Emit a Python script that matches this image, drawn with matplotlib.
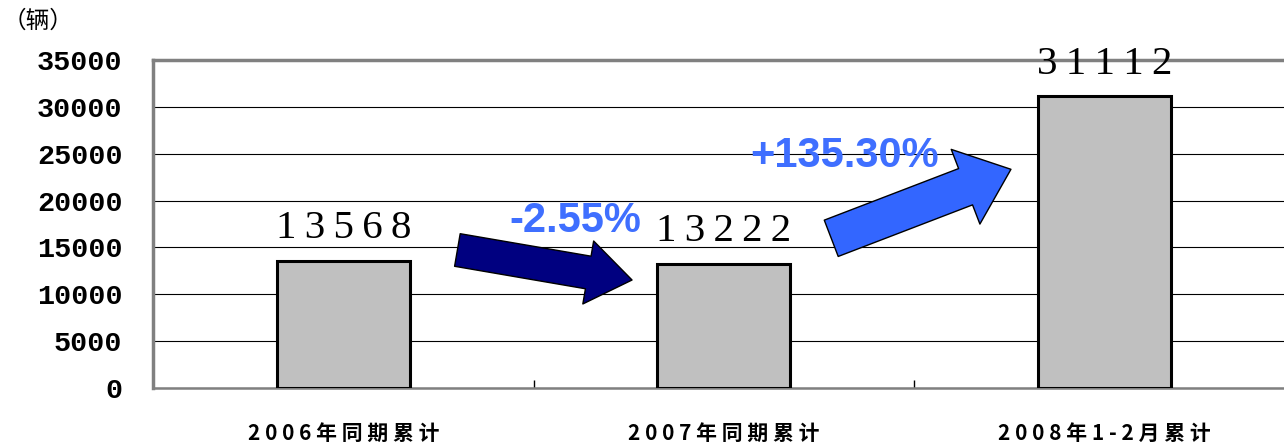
import matplotlib.pyplot as plt
from matplotlib.ticker import FixedLocator

plt.rcParams['font.family'] = ['Noto Sans CJK SC', 'DejaVu Sans']

# data
categories = ['2006年同期累计', '2007年同期累计', '2008年1-2月累计']
values = [13568, 13222, 31112]
changes = ['-2.55%', '+135.30%']
y_ticks = [0, 5000, 10000, 15000, 20000, 25000, 30000, 35000]


def spaced(s, sep):
    return sep.join(s)


fig = plt.figure(figsize=(12.84, 4.42), dpi=100)
ax = fig.add_axes([153 / 1284, 1 - 388 / 442, 1141.5 / 1284, 328 / 442])

x = list(range(len(categories)))
ax.bar(x, values, width=0.35, color='#C0C0C0', edgecolor='black', linewidth=2.2, zorder=3)

ax.set_xlim(-0.5, 2.5)
ax.set_ylim(0, 35000)
ax.set_yticks(y_ticks)
ax.set_yticklabels([str(t) for t in y_ticks], family=['Liberation Mono', 'DejaVu Sans Mono'],
                   fontsize=20.5, weight='bold')
ax.tick_params(axis='y', length=0, pad=22)

ax.set_xticks(x)
ax.set_xticklabels([spaced(c, ' ') for c in categories], fontsize=15, weight='bold')
ax.tick_params(axis='x', which='major', length=0, pad=25)
ax.xaxis.set_minor_locator(FixedLocator([0.5, 1.5]))
ax.tick_params(axis='x', which='minor', direction='in', length=6, width=1, color='black')

ax.yaxis.grid(True, color='black', linewidth=0.8)
ax.set_axisbelow(True)
for side in ['top', 'left']:
    ax.spines[side].set_color('#808080')
    ax.spines[side].set_linewidth(2.5)
ax.spines['bottom'].set_color('#808080')
ax.spines['bottom'].set_linewidth(1.8)
ax.spines['right'].set_visible(False)

# value labels
for i, v in enumerate(values):
    ax.annotate(spaced(str(v), '\u2009'), (i, v), xytext=(0, 16.5), textcoords='offset points',
                ha='center', va='baseline', fontsize=29.5,
                family=['Liberation Serif', 'DejaVu Serif'], zorder=5)

# change arrows
ax.annotate('', xy=(0.759, 11524), xytext=(0.30, 14726),
            arrowprops=dict(arrowstyle='simple,head_length=1.6,head_width=2.3,tail_width=1.19',
                            mutation_scale=20, fc='#000080', ec='black', lw=1,
                            shrinkA=0, shrinkB=0), zorder=6)
ax.annotate('', xy=(1.7548, 23337), xytext=(1.2825, 15974),
            arrowprops=dict(arrowstyle='simple,head_length=1.75,head_width=2.88,tail_width=1.4',
                            mutation_scale=20, fc='#3366FF', ec='black', lw=1,
                            shrinkA=0, shrinkB=0), zorder=6)

ax.text(0.61, 16679, changes[0], ha='center', va='baseline', fontsize=30, weight='bold',
        color='#3F6FFF', family=['Liberation Sans', 'DejaVu Sans'], zorder=7)
ax.text(1.3167, 23615, changes[1], ha='center', va='baseline', fontsize=30, weight='bold',
        color='#3F6FFF', family=['Liberation Sans', 'DejaVu Sans'], zorder=7)

fig.text(0.002, 0.952, '（辆）', ha='left', va='center', fontsize=17)

fig.savefig('out.png', dpi=100)
